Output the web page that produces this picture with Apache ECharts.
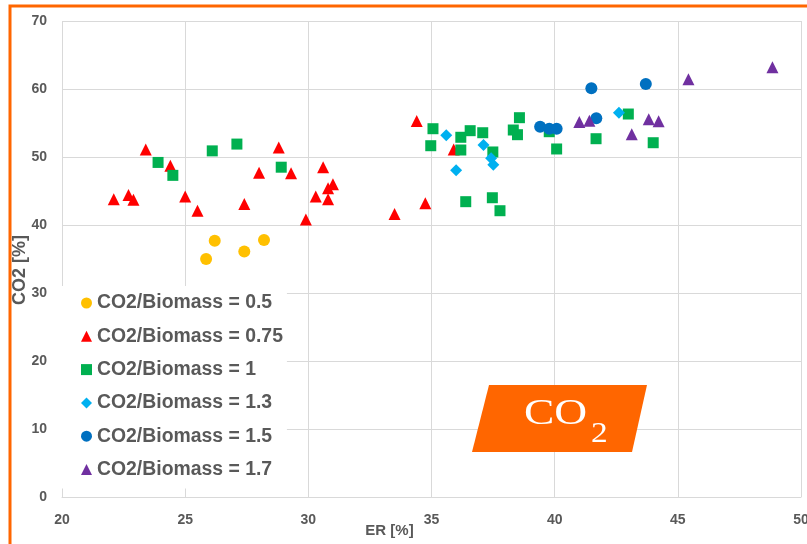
<!DOCTYPE html>
<html>
<head>
<meta charset="utf-8">
<title>CO2 vs ER</title>
<script src="https://cdn.jsdelivr.net/npm/echarts@6/dist/echarts.min.js"></script>
<style>
  html, body { margin: 0; padding: 0; background: #ffffff; }
  #chart { width: 807px; height: 544px; }
</style>
</head>
<body>
<div id="chart"></div>
<script>
// ER [%] vs CO2 [%] for each CO2/Biomass feed ratio, as [ER, CO2] pairs
const ratio050 = [[25.85, 35.0], [26.2, 37.7], [27.4, 36.1], [28.2, 37.8]];
const ratio075 = [
  [22.1, 43.8], [22.7, 44.4], [22.9, 43.7], [23.4, 51.1], [24.4, 48.7],
  [25.0, 44.2], [25.5, 42.1], [27.4, 43.1], [28.0, 47.7], [28.8, 51.4],
  [29.3, 47.6], [29.9, 40.8], [30.3, 44.2], [30.6, 48.5], [30.8, 43.8],
  [30.8, 45.4], [31.0, 46.0], [33.5, 41.6], [34.4, 55.3], [34.75, 43.2],
  [35.9, 51.1]
];
const ratio100 = [
  [23.9, 49.2], [24.5, 47.3], [26.1, 50.9], [27.1, 51.9], [28.9, 48.5],
  [35.06, 54.16], [34.97, 51.66], [36.19, 52.9], [36.19, 51.03], [36.57, 53.87],
  [37.08, 53.57], [37.49, 50.74], [38.32, 53.97], [38.57, 55.78], [38.49, 53.28],
  [39.78, 53.72], [40.08, 51.18], [36.39, 43.43], [37.47, 44.01], [37.78, 42.1],
  [41.68, 52.69], [42.99, 56.32], [44.0, 52.1]
];
const ratio130 = [
  [35.6, 53.19], [36.0, 48.04], [37.11, 51.76], [37.42, 49.81], [37.51, 48.87],
  [42.61, 56.51]
];
const ratio150 = [
  [39.41, 54.46], [39.78, 54.16], [40.08, 54.16], [41.49, 60.1], [41.69, 55.69],
  [43.7, 60.74]
];
const ratio170 = [
  [41.0, 55.15], [41.41, 55.34], [43.13, 53.34], [43.82, 55.54], [44.22, 55.25],
  [45.43, 61.43], [48.84, 63.19]
];

const seriesNames = [
  'CO2/Biomass = 0.5', 'CO2/Biomass = 0.75', 'CO2/Biomass = 1',
  'CO2/Biomass = 1.3', 'CO2/Biomass = 1.5', 'CO2/Biomass = 1.7'
];
const seriesData = [ratio050, ratio075, ratio100, ratio130, ratio150, ratio170];
const seriesColors = ['#FFC000', '#FF0000', '#00B050', '#00B0F0', '#0070C0', '#7030A0'];
const seriesSymbols = ['circle', 'triangle', 'rect', 'diamond', 'circle', 'triangle'];
const seriesSizes = [12, 12, 11, 12, 12, 12];

const axisGray = '#595959';
const gridGray = '#D9D9D9';
const orange = '#FF6600';

const chart = echarts.init(document.getElementById('chart'), null, { renderer: 'canvas' });

chart.setOption({
  animation: false,
  backgroundColor: '#ffffff',
  textStyle: { fontFamily: 'Liberation Sans' },
  grid: { left: 62, right: 6, top: 21, bottom: 47, containLabel: false, outerBoundsMode: 'none' },
  xAxis: {
    type: 'value',
    min: 20, max: 50, interval: 5,
    name: 'ER [%]',
    nameLocation: 'middle',
    nameGap: 26,
    nameMoveOverlap: false,
    nameTextStyle: { fontSize: 15, fontWeight: 'bold', color: axisGray, padding: [0, 84, 0, 0] },
    axisLine: { show: true, lineStyle: { color: gridGray, width: 1 } },
    axisTick: { show: false },
    axisLabel: { fontSize: 14, fontWeight: 'bold', color: axisGray, margin: 16 },
    splitLine: { show: true, lineStyle: { color: gridGray, width: 1 } }
  },
  yAxis: {
    type: 'value',
    min: 0, max: 70, interval: 10,
    name: 'CO2 [%]',
    nameLocation: 'middle',
    nameGap: 33,
    nameMoveOverlap: false,
    nameTextStyle: { fontSize: 18, fontWeight: 'bold', color: axisGray, padding: [0, 22, 0, 0] },
    axisLine: { show: false },
    axisTick: { show: false },
    axisLabel: { fontSize: 14, fontWeight: 'bold', color: axisGray, margin: 15 },
    splitLine: { show: true, lineStyle: { color: gridGray, width: 1 } }
  },
  legend: {
    orient: 'vertical',
    left: 62,
    top: 286,
    padding: [6, 4, 8, 19],
    backgroundColor: '#ffffff',
    itemWidth: 11,
    itemHeight: 11,
    itemGap: 11.3,
    itemTextGap: 7,
    textStyle: { fontSize: 19.4, fontWeight: 'bold', color: axisGray, lineHeight: 22 },
    data: seriesNames.map((n, i) => ({ name: n, icon: seriesSymbols[i] }))
  },
  graphic: [
    {
      type: 'rect',
      silent: true,
      z: 100,
      shape: { x: 10, y: 6, width: 900, height: 700 },
      style: { fill: 'none', stroke: orange, lineWidth: 3 }
    },
    {
      type: 'polygon',
      silent: true,
      z: 50,
      shape: { points: [[489, 385], [647, 385], [632, 452], [472, 452]] },
      style: { fill: orange }
    },
    {
      type: 'text',
      silent: true,
      z: 51,
      x: 524, y: 415,
      scaleX: 1.3,
      style: {
        text: 'CO', x: 0, y: 0, align: 'left', verticalAlign: 'middle',
        fill: '#ffffff', fontSize: 35, fontFamily: 'Liberation Serif'
      }
    },
    {
      type: 'text',
      silent: true,
      z: 51,
      x: 591, y: 434,
      scaleX: 1.15,
      style: {
        text: '2', x: 0, y: 0, align: 'left', verticalAlign: 'middle',
        fill: '#ffffff', fontSize: 29, fontFamily: 'Liberation Serif'
      }
    }
  ],
  series: seriesNames.map((n, i) => ({
    name: n,
    type: 'scatter',
    symbol: seriesSymbols[i],
    symbolSize: seriesSizes[i],
    itemStyle: { color: seriesColors[i], opacity: 1 },
    data: seriesData[i]
  }))
});
</script>
</body>
</html>
